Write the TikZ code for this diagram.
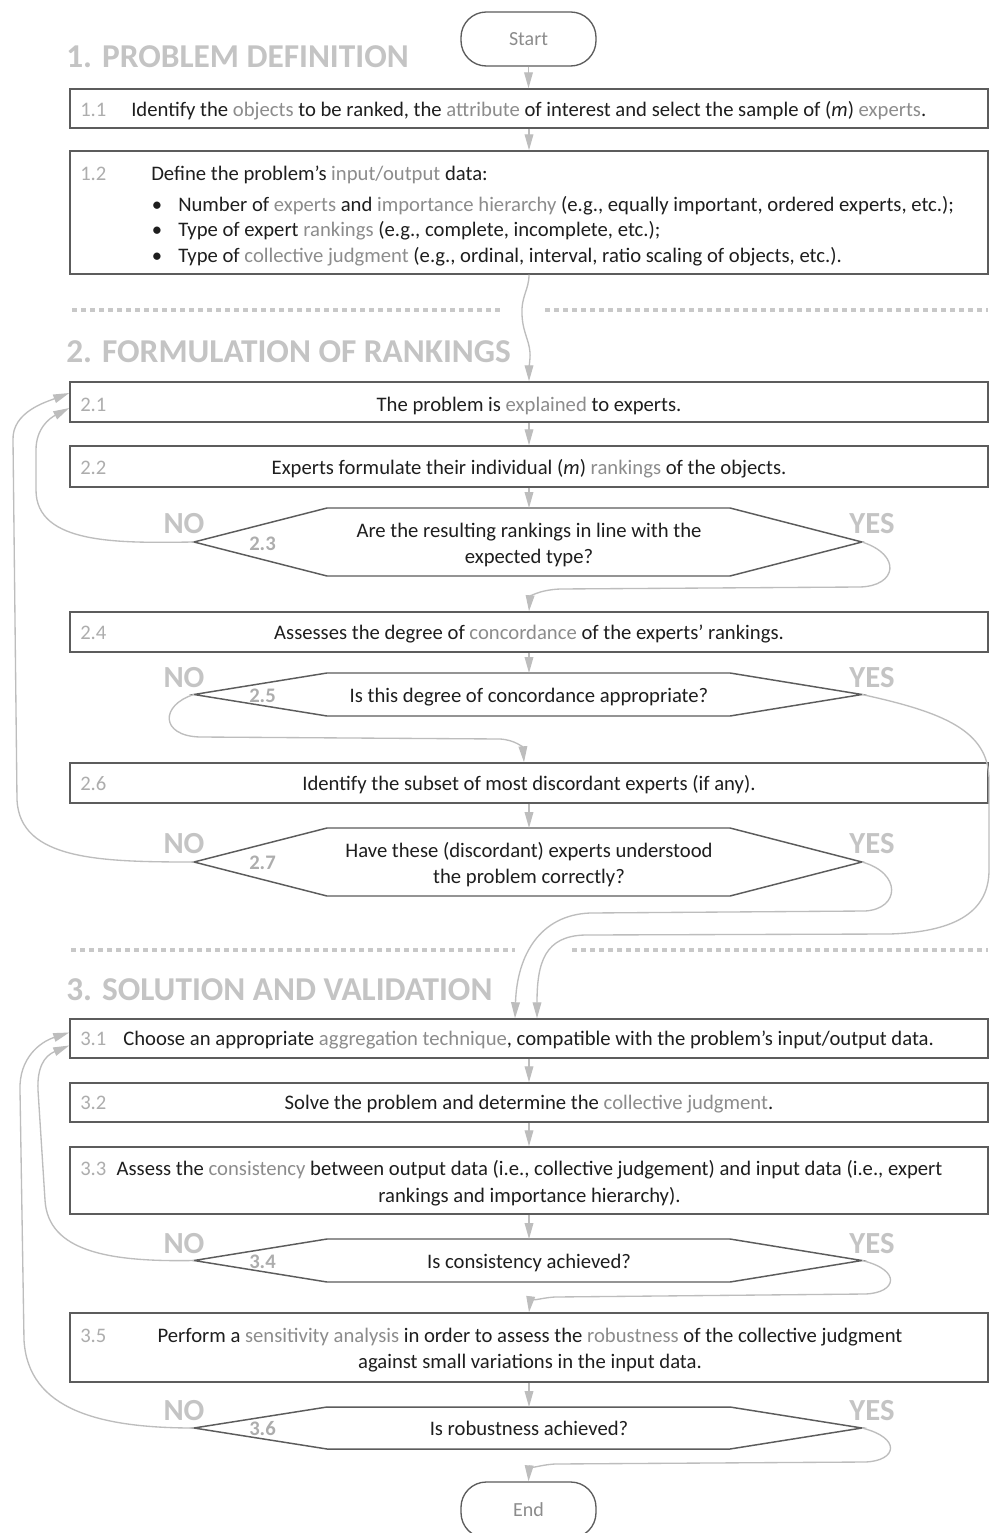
\documentclass[tikz,border=0pt]{standalone}
\usepackage{fontspec}
\setmainfont{Carlito}
\usetikzlibrary{arrows.meta,fit,calc,shadows}
\definecolor{txtc}{HTML}{1E1E1E}
\definecolor{hlc}{HTML}{8C8C8C}
\definecolor{numc}{HTML}{ADADAD}
\definecolor{headc}{HTML}{C4C4C4}
\definecolor{boxc}{HTML}{5C5C5C}
\definecolor{arrc}{HTML}{BDBDBD}
\definecolor{dotc}{HTML}{C8C8C8}
\definecolor{termc}{HTML}{8C8C8C}
\newcommand{\hl}[1]{\textcolor{hlc}{#1}}
\newcommand{\bodyf}{\fontsize{15.5}{19.6}\selectfont}
\tikzset{
  box/.style={draw=boxc, line width=1.1pt, fill=white, inner sep=0pt,
    drop shadow={shadow xshift=0.8pt, shadow yshift=-1pt, fill=black, opacity=0.18}},
  term/.style={draw=boxc, line width=1pt, fill=white, inner sep=0pt, rounded corners=19pt},
  termtxt/.style={font=\fontsize{15}{18}\selectfont, text=termc, inner sep=0pt},
  hexline/.style={draw=boxc, line width=1.1pt, fill=white, line join=miter},
  txt/.style={font=\bodyf, text=txtc, inner sep=0pt, text height=1.6ex, text depth=.4ex, yshift=-3pt},
  mtxt/.style={font=\bodyf, text=txtc, inner sep=0pt, align=center, yshift=-1.7pt},
  num/.style={font=\bodyf, text=numc, inner sep=0pt, anchor=west, text height=1.6ex, text depth=.4ex, yshift=-3pt},
  hnum/.style={num, font=\bodyf\bfseries},
  headg/.style={font=\fontsize{25}{30}\selectfont\bfseries, text=headc, inner sep=0pt, anchor=base west},
  yn/.style={font=\fontsize{23}{27}\selectfont\bfseries, text=headc, inner sep=0pt, anchor=base},
  arr/.style={draw=arrc, line width=1pt, -{Triangle[length=12pt,width=6.5pt]}},
  sep/.style={draw=dotc, line width=3pt, dash pattern=on 3.75pt off 3pt}
}
\newcommand{\hexagon}[3]{%
  \draw[hexline] (194,{(#2+#3)/2}) -- (327,#2) -- (730,#2) -- (862,{(#2+#3)/2}) -- (730,#3) -- (327,#3) -- cycle;
  \coordinate (#1w) at (194,{(#2+#3)/2});
  \coordinate (#1e) at (862,{(#2+#3)/2});
  \coordinate (#1n) at (529,#2);
}
\begin{document}
\begin{tikzpicture}[x=0.75pt,y=-0.75pt]
\useasboundingbox (0,0) rectangle (990,1533);
\fill[white] (0,0) rectangle (990,1533);
\clip (0,0) rectangle (990,1533);

% ---------- headings and separators
\node[headg] (hd1) at (66,68) {1. PROBLEM DEFINITION};
\node[headg] (hd2) at (66,363) {2. FORMULATION OF RANKINGS};
\node[headg] (hd3) at (66,1000) {3. SOLUTION AND VALIDATION};
\draw[sep] (72,310) -- (503,310);
\draw[sep] (545,310) -- (988,310);
\draw[sep] (71,950) -- (515,950);
\draw[sep] (572,950) -- (988,950);

% ---------- terminals
\node[term, fit={(461,12) (596,66)}] (start) {};
\node[termtxt] (startt) at (528.5,39) {Start};
\node[term, fit={(461,1482) (596,1538)}] (end) {};
\node[termtxt] (endt) at (528.5,1510) {End};

% ---------- boxes
\node[box, fit={(70,89) (988,128)}] (b11) {};
\node[box, fit={(70,151) (988,274)}] (b12) {};
\node[box, fit={(70,382) (988,422)}] (b21) {};
\node[box, fit={(70,446) (988,487)}] (b22) {};
\node[box, fit={(70,612) (988,652)}] (b24) {};
\node[box, fit={(70,763) (988,803)}] (b26) {};
\node[box, fit={(70,1019) (988,1058)}] (b31) {};
\node[box, fit={(70,1083) (988,1122)}] (b32) {};
\node[box, fit={(70,1147) (988,1214)}] (b33) {};
\node[box, fit={(70,1313) (988,1382)}] (b35) {};

% ---------- hexagons
\hexagon{h23}{508}{576}
\hexagon{h25}{673}{716}
\hexagon{h27}{828}{896}
\hexagon{h34}{1239}{1282}
\hexagon{h36}{1407}{1449}

% ---------- box texts
\node[num] (n11) at (80,109) {1.1};
\node[txt, anchor=west] (t11) at (131,109) {Identify the \hl{objects} to be ranked, the \hl{attribute} of interest and select the sample of (\textit{m}) \hl{experts}.};
\node[num] (n12) at (80,173) {1.2};
\node[txt, anchor=west] (t12) at (151,173) {Define the problem’s \hl{input/output} data:};
\node[txt] (d1) at (157,204) {\textbullet};
\node[txt] (d2) at (157,229) {\textbullet};
\node[txt] (d3) at (157,255) {\textbullet};
\node[txt, anchor=west] (t12a) at (178,204) {Number of \hl{experts} and \hl{importance hierarchy} (e.g., equally important, ordered experts, etc.);};
\node[txt, anchor=west] (t12b) at (178,229) {Type of expert \hl{rankings} (e.g., complete, incomplete, etc.);};
\node[txt, anchor=west] (t12c) at (178,255) {Type of \hl{collective judgment} (e.g., ordinal, interval, ratio scaling of objects, etc.).};

\node[num] (n21) at (80,404) {2.1};
\node[txt] (t21) at (529,404) {The problem is \hl{explained} to experts.};
\node[num] (n22) at (80,467) {2.2};
\node[txt] (t22) at (529,467) {Experts formulate their individual (\textit{m}) \hl{rankings} of the objects.};
\node[hnum] (n23) at (249,543) {2.3};
\node[mtxt] (t23) at (529,543) {Are the resulting rankings in line with the\\expected type?};
\node[num] (n24) at (80,632) {2.4};
\node[txt] (t24) at (529,632) {Assesses the degree of \hl{concordance} of the experts’ rankings.};
\node[hnum] (n25) at (249,695) {2.5};
\node[txt] (t25) at (529,695) {Is this degree of concordance appropriate?};
\node[num] (n26) at (80,783) {2.6};
\node[txt] (t26) at (529,783) {Identify the subset of most discordant experts (if any).};
\node[hnum] (n27) at (249,862) {2.7};
\node[mtxt] (t27) at (529,862) {Have these (discordant) experts understood\\the problem correctly?};

\node[num] (n31) at (80,1038) {3.1};
\node[txt, anchor=west] (t31) at (123,1038) {Choose an appropriate \hl{aggregation technique}, compatible with the problem’s input/output data.};
\node[num] (n32) at (80,1102) {3.2};
\node[txt] (t32) at (529,1102) {Solve the problem and determine the \hl{collective judgment}.};
\node[num] (n33) at (80,1168) {3.3};
\node[mtxt] (t33) at (529.5,1181) {Assess the \hl{consistency} between output data (i.e., collective judgement) and input data (i.e., expert\\rankings and importance hierarchy).};
\node[hnum] (n34) at (249,1260.5) {3.4};
\node[txt] (t34) at (529,1260.5) {Is consistency achieved?};
\node[num] (n35) at (80,1335) {3.5};
\node[mtxt] (t35) at (530,1348) {Perform a \hl{sensitivity analysis} in order to assess the \hl{robustness} of the collective judgment\\against small variations in the input data.};
\node[hnum] (n36) at (249,1428) {3.6};
\node[txt] (t36) at (529,1428) {Is robustness achieved?};

% ---------- NO / YES labels
\foreach \yy/\nm in {533/a,687/b,853/c,1253/d,1420/e}{
  \node[yn] (no\nm) at (184,\yy) {NO};
  \node[yn] (yes\nm) at (872,\yy) {YES};
}

% ---------- straight connectors
\draw[arr] (start.south) -- (start.south |- b11.north);
\draw[arr] (b11.south) -- (b12.north);
\draw[arr] (b21.south) -- (b22.north);
\draw[arr] (b22.south) -- (h23n);
\draw[arr] (b24.south) -- (h25n);
\draw[arr] (b26.south) -- (h27n);
\draw[arr] (b31.south) -- (b32.north);
\draw[arr] (b32.south) -- (b33.north);
\draw[arr] (b33.south) -- (h34n);
\draw[arr] (b35.south) -- (h36n);

% ---------- curved connectors
\draw[arr] (b12.south) .. controls (529,290) and (521,296) .. (522,315)
  .. controls (523,335) and (531,342) .. (530,358)
  .. controls (529,368) and (529,372) .. (b21.north);
% NO 2.3 -> 2.1
\draw[arr] (h23w) .. controls (120,543) and (36,545) .. (36,490) -- (36,450)
  .. controls (36,428) and (50,418) .. ($(b21.west)+(0,6)$);
% NO 2.7 -> 2.1
\draw[arr] (h27w) .. controls (100,862) and (20,860) .. (17,800) -- (13,440)
  .. controls (12,412) and (46,402) .. ($(b21.west)+(0,-9)$);
% YES 2.3 -> 2.4
\draw[arr] (h23e) .. controls (902,555) and (897,586) .. (860,587) -- (560,589)
  .. controls (538,590) and (530,597) .. (b24.north);
% NO 2.5 -> 2.6
\draw[arr] (h25w) .. controls (160,705) and (160,736) .. (200,737) -- (500,739)
  .. controls (516,740) and (523,748) .. ($(b26.north)+(-5,0)$);
% YES 2.5 -> 3.1
\draw[arr] (h25e) .. controls (942,712) and (989,730) .. (989,780) -- (989,870)
  .. controls (989,915) and (950,932) .. (890,934) -- (585,935)
  .. controls (545,936) and (537,962) .. ($(b31.north)+(8,0)$);
% YES 2.7 -> 3.1
\draw[arr] (h27e) .. controls (902,873) and (900,909) .. (865,911) -- (590,913)
  .. controls (540,915) and (517,955) .. ($(b31.north)+(-14,0)$);
% NO 3.4 -> 3.1
\draw[arr] (h34w) .. controls (110,1262) and (48,1252) .. (45,1200) -- (38,1090)
  .. controls (37,1068) and (44,1056) .. ($(b31.west)+(0,7)$);
% NO 3.6 -> 3.1
\draw[arr] (h36w) .. controls (100,1428) and (28,1410) .. (24,1340) -- (20,1090)
  .. controls (19,1058) and (40,1042) .. ($(b31.west)+(0,-6)$);
% YES 3.4 -> 3.5
\draw[arr] (h34e) .. controls (902,1270) and (897,1293) .. (865,1294) -- (555,1297)
  .. controls (538,1298) and (530,1303) .. (b35.north);
% YES 3.6 -> End
\draw[arr] (h36e) .. controls (902,1438) and (897,1461) .. (865,1462) -- (555,1464)
  .. controls (538,1465) and (529,1470) .. (end.north);
\end{tikzpicture}
\end{document}
